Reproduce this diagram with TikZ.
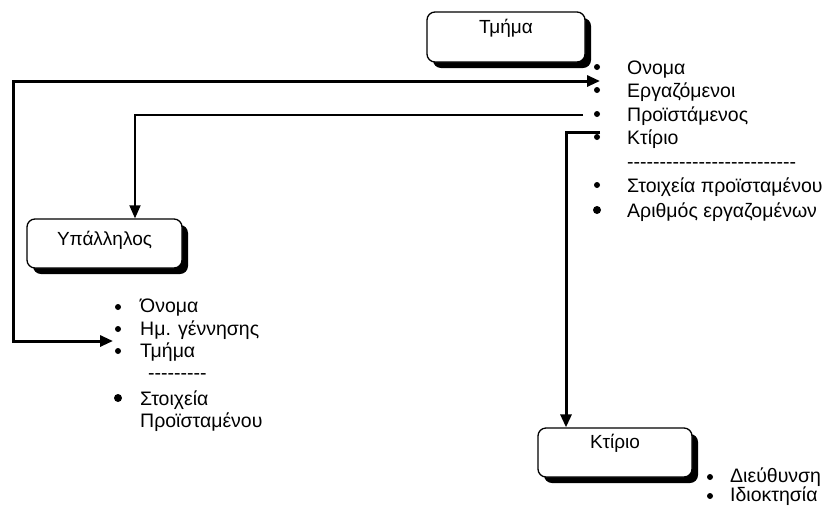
\documentclass[tikz,border=0pt]{standalone}
\usepackage{fontspec}
\setmainfont{Liberation Sans}
\usetikzlibrary{arrows.meta,shadows}
\newcommand{\dashrow}[1]{\foreach \i in {1,...,#1}{-{}}}
\begin{document}
\begin{tikzpicture}[x=1pt,y=-1pt,
  entity/.style={draw=black, line width=1.3pt, rounded corners=8pt, fill=white,
    inner sep=0pt, drop shadow={fill=black, opacity=1, shadow xshift=6pt, shadow yshift=-6pt}},
  etitle/.style={anchor=base, inner sep=0pt, font=\fontsize{19}{22}\selectfont},
  item/.style={anchor=base west, inner sep=0pt, font=\fontsize{19.5}{22}\selectfont, align=left},
  bul/.style={circle, fill=black, inner sep=0pt, minimum size=6pt},
  bigbul/.style={circle, fill=black, inner sep=0pt, minimum size=8pt},
  thick link/.style={line width=3pt},
  thin link/.style={line width=1.8pt},
  tip/.style={-{Triangle[length=13pt,width=11pt]}}
]
\useasboundingbox (0,0) rectangle (830,523);

% entities
\node[entity, minimum width=158pt, minimum height=50pt] (tmima) at (506,37) {};
\node[etitle] (tmimaT) at (506,33) {Τμήμα};
\node[entity, minimum width=155pt, minimum height=49pt] (ypal) at (104.5,243.5) {};
\node[etitle] (ypalT) at (104.5,245) {Υπάλληλος};
\node[entity, minimum width=154pt, minimum height=49pt] (ktir) at (615,452.5) {};
\node[etitle] (ktirT) at (615,448) {Κτίριο};

% Tmima attributes
\node[bul] (tb1) at (597,67) {};
\node[bul] (tb2) at (597,90) {};
\node[bul] (tb3) at (597,114) {};
\node[bul] (tb4) at (597,137) {};
\node[bul] (tb5) at (597,185) {};
\node[bigbul] (tb6) at (597,210) {};
\node[item] (t1) at (627,74) {Ονομα};
\node[item] (t2) at (627,97) {Εργαζόμενοι};
\node[item] (t3) at (627,121) {Προϊστάμενος};
\node[item] (t4) at (627,144) {Κτίριο};
\node[item] (td) at (627,168) {\dashrow{26}};
\node[item] (t5) at (627,192) {Στοιχεία προϊσταμένου};
\node[item] (t6) at (627,217) {Αριθμός εργαζομένων};

% Ypallilos attributes
\node[bul] (yb1) at (118,307) {};
\node[bul] (yb2) at (118,329) {};
\node[bul] (yb3) at (118,351) {};
\node[bigbul] (yb4) at (118,398) {};
\node[item] (y1) at (140,312) {Όνομα};
\node[item] (y2) at (140,335) {Ημ. γέννησης};
\node[item] (y3) at (140,357) {Τμήμα};
\node[item] (yd) at (148,379) {\dashrow{9}};
\node[item] (y4) at (140,405) {Στοιχεία};
\node[item] (y5) at (140,427) {Προϊσταμένου};

% Ktirio attributes
\node[bul] (kb1) at (710,477) {};
\node[bul] (kb2) at (710,496) {};
\node[item] (k1) at (730,482) {Διεύθυνση};
\node[item] (k2) at (730,501) {Ιδιοκτησία};

% connectors
\coordinate (c1a) at (600,81);
\coordinate (c1b) at (113,341);
\draw[thick link, {Triangle[length=13pt,width=11pt]}-{Triangle[length=13pt,width=11pt]}]
  (c1b) -- (13,341) -- (13,81) -- (c1a);
\coordinate (c2a) at (583,115);
\draw[thin link, tip] (c2a) -- (135,115) -- (ypal.north -| 135,0);
\coordinate (c3a) at (600,132);
\draw[thick link, tip] (c3a) -- (566,132) -- (ktir.north -| 566,0);
\end{tikzpicture}
\end{document}
